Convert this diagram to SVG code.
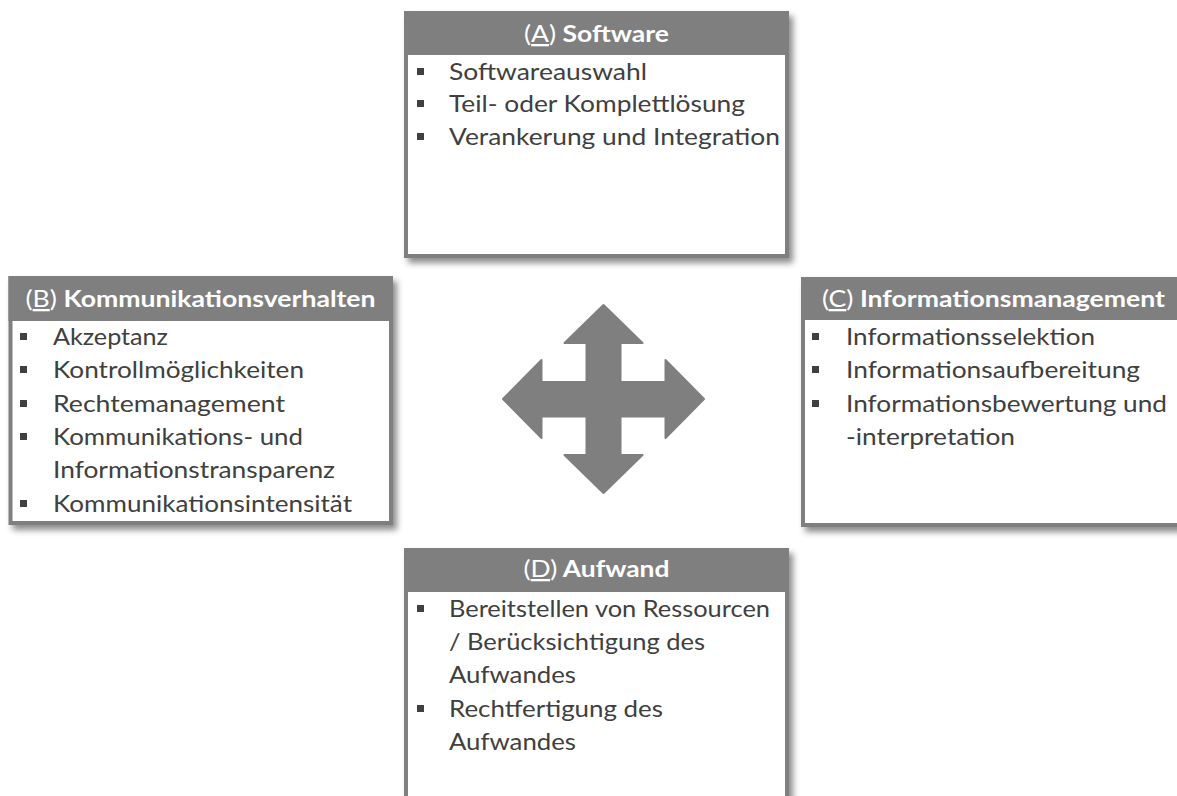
<svg xmlns="http://www.w3.org/2000/svg" width="1177" height="796" viewBox="0 0 1177 796">
<defs>
<filter id="sh" x="-10%" y="-10%" width="130%" height="130%">
<feDropShadow dx="4" dy="5" stdDeviation="3" flood-color="#000" flood-opacity="0.45"/>
</filter>
<style>
.box{fill:#fff;stroke:#7f7f7f;stroke-width:4}
.hdr{fill:#7f7f7f}
.title{font-family:Lato,"Open Sans","Liberation Sans",sans-serif;font-size:23px;fill:#fff;text-anchor:middle}
.b{font-weight:bold}
.u{text-decoration:underline}
.item{font-family:Lato,"Open Sans","Liberation Sans",sans-serif;font-size:23px;fill:#404040}
.bul{fill:#404040}
.arrow{fill:#7f7f7f;stroke:#7f7f7f;stroke-width:2;stroke-linejoin:round}
</style>
</defs>
<rect width="1177" height="796" fill="#fff"/>

<g id="nodeA">
<g filter="url(#sh)">
<rect class="box" x="406" y="13" width="381" height="243"/>
<rect class="hdr" x="404" y="11" width="385" height="44"/>
</g>
<text class="title" x="596.5" y="42" textLength="145" lengthAdjust="spacingAndGlyphs">(<tspan class="u">A</tspan>)<tspan class="b"> Software</tspan></text>
<rect class="bul" x="417" y="68" width="7" height="7"/>
<rect class="bul" x="417" y="100" width="7" height="7"/>
<rect class="bul" x="417" y="133" width="7" height="7"/>
<text class="item" x="449" y="80" textLength="198" lengthAdjust="spacingAndGlyphs">Softwareauswahl</text>
<text class="item" x="449" y="112" textLength="296" lengthAdjust="spacingAndGlyphs">Teil- oder Komplettlösung</text>
<text class="item" x="449" y="145" textLength="331" lengthAdjust="spacingAndGlyphs">Verankerung und Integration</text>
</g>

<g id="nodeB">
<g filter="url(#sh)">
<rect class="box" x="10.5" y="278" width="380.5" height="245"/>
<rect class="hdr" x="8.5" y="276" width="384.5" height="45"/>
</g>
<text class="title" x="200.5" y="307" textLength="350" lengthAdjust="spacingAndGlyphs">(<tspan class="u">B</tspan>)<tspan class="b"> Kommunikationsverhalten</tspan></text>
<rect class="bul" x="20" y="333" width="7" height="7"/>
<rect class="bul" x="20" y="366" width="7" height="7"/>
<rect class="bul" x="20" y="400" width="7" height="7"/>
<rect class="bul" x="20" y="433" width="7" height="7"/>
<rect class="bul" x="20" y="500" width="7" height="7"/>
<text class="item" x="53" y="345" textLength="115" lengthAdjust="spacingAndGlyphs">Akzeptanz</text>
<text class="item" x="53" y="378" textLength="251" lengthAdjust="spacingAndGlyphs">Kontrollmöglichkeiten</text>
<text class="item" x="53" y="412" textLength="232" lengthAdjust="spacingAndGlyphs">Rechtemanagement</text>
<text class="item" x="53" y="445" textLength="250" lengthAdjust="spacingAndGlyphs">Kommunikations- und</text>
<text class="item" x="53" y="478" textLength="282" lengthAdjust="spacingAndGlyphs">Informationstransparenz</text>
<text class="item" x="53" y="512" textLength="299" lengthAdjust="spacingAndGlyphs">Kommunikationsintensität</text>
</g>

<g id="nodeC">
<g filter="url(#sh)">
<rect class="box" x="803" y="279" width="381" height="246"/>
<rect class="hdr" x="801" y="277" width="385" height="43"/>
</g>
<text class="title" x="993.5" y="307" textLength="343" lengthAdjust="spacingAndGlyphs">(<tspan class="u">C</tspan>)<tspan class="b"> Informationsmanagement</tspan></text>
<rect class="bul" x="812" y="333" width="7" height="7"/>
<rect class="bul" x="812" y="366" width="7" height="7"/>
<rect class="bul" x="812" y="400" width="7" height="7"/>
<text class="item" x="846" y="345" textLength="249" lengthAdjust="spacingAndGlyphs">Informationsselektion</text>
<text class="item" x="846" y="378" textLength="294" lengthAdjust="spacingAndGlyphs">Informationsaufbereitung</text>
<text class="item" x="846" y="412" textLength="321" lengthAdjust="spacingAndGlyphs">Informationsbewertung und</text>
<text class="item" x="846" y="445" textLength="169" lengthAdjust="spacingAndGlyphs">-interpretation</text>
</g>

<g id="nodeD">
<g filter="url(#sh)">
<rect class="box" x="406" y="550" width="381" height="270"/>
<rect class="hdr" x="404" y="548" width="385" height="44"/>
</g>
<text class="title" x="596.5" y="577" textLength="146" lengthAdjust="spacingAndGlyphs">(<tspan class="u">D</tspan>)<tspan class="b"> Aufwand</tspan></text>
<rect class="bul" x="417" y="605" width="7" height="7"/>
<rect class="bul" x="417" y="705" width="7" height="7"/>
<text class="item" x="449" y="617" textLength="321" lengthAdjust="spacingAndGlyphs">Bereitstellen von Ressourcen</text>
<text class="item" x="449" y="650" textLength="256" lengthAdjust="spacingAndGlyphs">/ Berücksichtigung des</text>
<text class="item" x="449" y="683" textLength="127" lengthAdjust="spacingAndGlyphs">Aufwandes</text>
<text class="item" x="449" y="717" textLength="214" lengthAdjust="spacingAndGlyphs">Rechtfertigung des</text>
<text class="item" x="449" y="750" textLength="127" lengthAdjust="spacingAndGlyphs">Aufwandes</text>
</g>

<g id="connectors">
<path class="arrow" d="M603.5,305 L642.5,343 L620.5,343 L620.5,382 L665.5,382 L665.5,360 L704,399 L665.5,438 L665.5,416.5 L620.5,416.5 L620.5,455 L642.5,455 L603.5,493 L564.5,455 L586.5,455 L586.5,416.5 L541.5,416.5 L541.5,438 L503,399 L541.5,360 L541.5,382 L586.5,382 L586.5,343 L564.5,343 Z"/>
</g>
</svg>
